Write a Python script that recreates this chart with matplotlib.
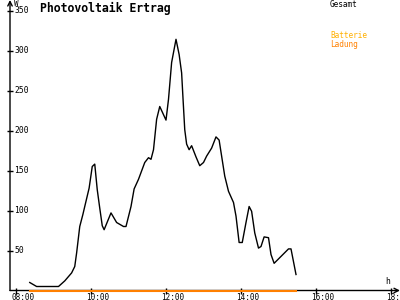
import matplotlib
matplotlib.use("Agg")
import matplotlib.pyplot as plt
import matplotlib.transforms as mtransforms

# ---- data ----
times = ["08:22", "08:33", "09:08", "09:18", "09:29", "09:34", "09:37", "09:42", "09:47",
         "09:50", "09:57", "10:02", "10:06", "10:10", "10:14", "10:18", "10:21", "10:32",
         "10:41", "10:52", "10:56", "11:04", "11:09", "11:16", "11:26", "11:32", "11:36",
         "11:40", "11:45", "11:50", "12:00", "12:04", "12:09", "12:16", "12:21", "12:25",
         "12:27", "12:30", "12:33", "12:37", "12:41", "12:48", "12:54", "13:00", "13:05",
         "13:13", "13:20", "13:25", "13:29", "13:34", "13:40", "13:48", "13:52", "13:57",
         "14:02", "14:08", "14:13", "14:17", "14:22", "14:28", "14:32", "14:37", "14:44",
         "14:48", "14:53", "15:16", "15:20", "15:28"]
gesamt = [10, 5, 5, 12, 22, 30, 47, 80, 95,
          105, 128, 155, 158, 126, 103, 81, 76, 97,
          85, 80, 80, 105, 127, 139, 160, 166, 164,
          176, 214, 230, 213, 239, 285, 314, 295, 272,
          243, 201, 183, 176, 181, 167, 156, 160, 168,
          178, 192, 188, 168, 143, 124, 110, 93, 60,
          60, 85, 105, 99, 72, 53, 55, 67, 66,
          45, 34, 52, 52, 20]
ladung_times = ["08:22", "15:28"]
ladung = [0, 0]
xtick_labels = ["08:00", "10:00", "12:00", "14:00", "16:00", "18:00"]
yticks = [50, 100, 150, 200, 250, 300, 350]
title = "Photovoltaik Ertrag"
legend_labels = ["Gesamt", "Batterie", "Ladung"]


def to_h(s):
    h, m = s.split(":")
    return int(h) + int(m) / 60.0


W, H = 400, 300
fig = plt.figure(figsize=(4, 3), dpi=100)
ax = fig.add_axes([10 / W, 9.5 / H, 390 / W, 290.5 / H])
ax.set_xlim(8 + (10 - 16) / 37.5, 8 + (400 - 16) / 37.5)
ax.set_ylim(0, 290.5 / 0.8)

mono = "DejaVu Sans Mono"
for s in ["top", "right", "left", "bottom"]:
    ax.spines[s].set_visible(False)

# axes with arrows
ax.annotate("", xy=(1.0, 0), xytext=(0, 0), xycoords="axes fraction",
            arrowprops=dict(arrowstyle="->", lw=1.0, color="black", shrinkA=0, shrinkB=0,
                            mutation_scale=8))
ax.annotate("", xy=(0, 1.0), xytext=(0, 0), xycoords="axes fraction",
            arrowprops=dict(arrowstyle="->", lw=1.0, color="black", shrinkA=0, shrinkB=0,
                            mutation_scale=8))

ax.plot([to_h(t) for t in times], gesamt, color="black", lw=1.0, zorder=3)
ax.plot([to_h(t) for t in ladung_times], ladung, color="#ff8000", lw=1.5, zorder=4,
        clip_on=False)

xt = [to_h(t) for t in xtick_labels]
ax.set_xticks(xt)
ax.set_xticklabels(xtick_labels, fontfamily=mono, fontsize=5.5, ha="left")
ax.set_yticks(yticks)
ax.set_yticklabels([str(v) for v in yticks], fontfamily=mono, fontsize=5.8, ha="left",
                   va="center")
ax.tick_params(axis="both", direction="inout", length=5, width=1.0, color="black")
ax.tick_params(axis="x", pad=-0.8)
ax.tick_params(axis="y", pad=0)

offx = mtransforms.ScaledTranslation(-5 / 100, 0, fig.dpi_scale_trans)
for lab in ax.get_xticklabels():
    lab.set_transform(lab.get_transform() + offx)
offy = mtransforms.ScaledTranslation(7.5 / 100, 0, fig.dpi_scale_trans)
for lab in ax.get_yticklabels():
    lab.set_transform(lab.get_transform() + offy)

fig.text(40 / W, 1 - 8 / H, title, fontfamily=mono, fontweight="bold", fontsize=8.3,
         ha="left", va="center")
fig.text(14 / W, 1 - 3 / H, "W", fontfamily=mono, fontsize=5.5, ha="left", va="center")
fig.text(385 / W, 1 - 281 / H, "h", fontfamily=mono, fontsize=5.8, ha="left", va="center")

fig.text(330 / W, 1 - 4.5 / H, legend_labels[0], fontfamily=mono, fontsize=5.6,
         color="black", ha="left", va="center")
fig.text(330 / W, 1 - 36 / H, legend_labels[1], fontfamily=mono, fontsize=5.6,
         color="#ffb000", ha="left", va="center")
fig.text(330 / W, 1 - 44 / H, legend_labels[2], fontfamily=mono, fontsize=5.6,
         color="#ff8000", ha="left", va="center")

fig.savefig("out.png", dpi=100)
